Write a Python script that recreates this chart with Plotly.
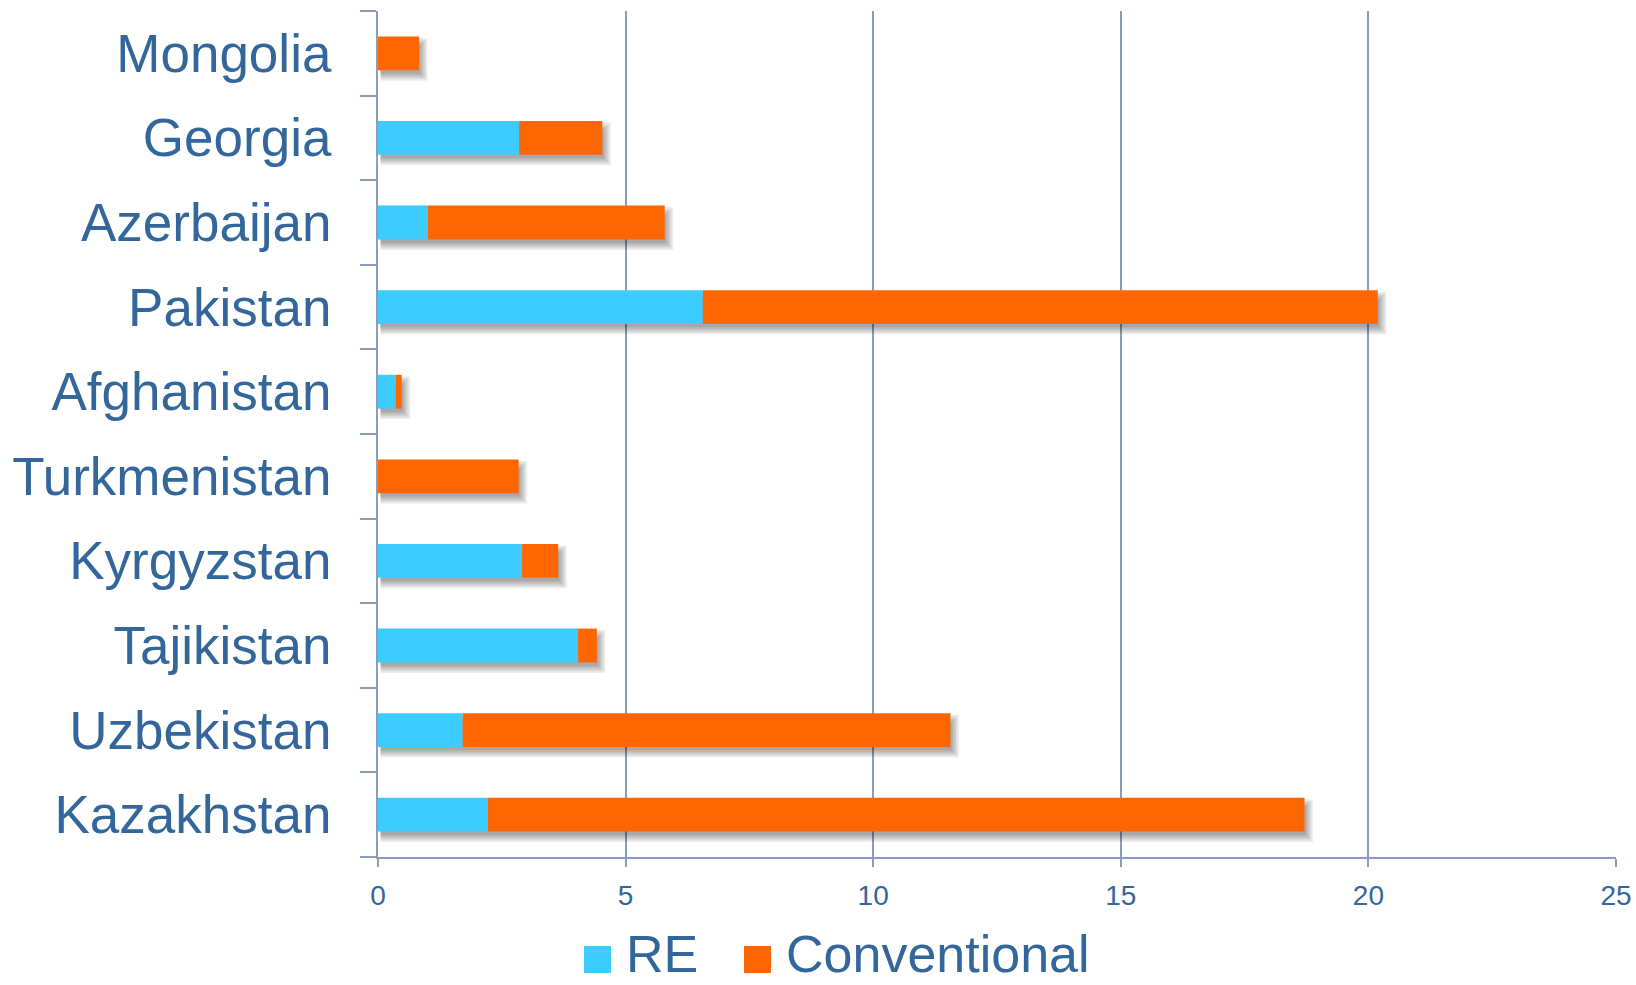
import plotly.graph_objects as go

# Installed capacity by country (GW), split into renewable and conventional
countries = ["Kazakhstan", "Uzbekistan", "Tajikistan", "Kyrgyzstan", "Turkmenistan",
             "Afghanistan", "Pakistan", "Azerbaijan", "Georgia", "Mongolia"]
re_vals = [2.22, 1.71, 4.04, 2.91, 0.0, 0.36, 6.56, 1.01, 2.85, 0.0]
conv_vals = [16.49, 9.85, 0.38, 0.73, 2.84, 0.12, 13.63, 4.78, 1.68, 0.83]
x_ticks = [0, 5, 10, 15, 20, 25]
series_names = ["RE", "Conventional"]

BLUE = "#3DCCFF"
ORANGE = "#FF6600"
AXIS = "#8D9DB9"
TEXT = "#33669A"
FONT = "Liberation Sans, Arial, sans-serif"

W, H = 1636, 985
M_L, M_R, M_T, M_B = 378, 20, 11, 128
BAR_W = 0.4

PW, PH = W - M_L - M_R, H - M_T - M_B
px_x = PW / 25.0                 # pixels per data unit along x
px_y = PH / len(countries)       # pixels per category

totals = [r + c for r, c in zip(re_vals, conv_vals)]

fig = go.Figure()

# soft drop shadow under each stacked bar, built from a few translucent layers
dy, dx = 6.0, 1.5
for spread in [-3, -1.5, 0, 1.5, 3, 4.5]:
    w = BAR_W + 2 * spread / px_y
    off = -BAR_W / 2 - dy / px_y - spread / px_y
    fig.add_trace(go.Bar(
        y=countries, x=[t + (dx + spread) / px_x for t in totals],
        base=[(dx + 1) / px_x] * len(countries),
        orientation="h", width=w, offset=off,
        marker=dict(color="rgba(0,0,0,0.065)", line=dict(width=0)),
        showlegend=False, hoverinfo="skip",
    ))

fig.add_trace(go.Bar(
    y=countries, x=re_vals, base=[0] * len(countries), orientation="h",
    width=BAR_W, offset=-BAR_W / 2, name=series_names[0],
    marker=dict(color=BLUE, line=dict(width=0)), showlegend=False,
))
fig.add_trace(go.Bar(
    y=countries, x=conv_vals, base=re_vals, orientation="h",
    width=BAR_W, offset=-BAR_W / 2, name=series_names[1],
    marker=dict(color=ORANGE, line=dict(width=0)), showlegend=False,
))


# legend drawn as swatches + labels below the plot (pixel positions → paper coords)
def px2paper_x(px):
    return (px - M_L) / PW


def px2paper_y(py):
    return (H - M_B - py) / PH


legend_items = [(series_names[0], BLUE, 584.0), (series_names[1], ORANGE, 744.0)]
SW = 27
baseline = 973.0
for name, col, x0 in legend_items:
    fig.add_shape(
        type="rect", xref="paper", yref="paper",
        x0=px2paper_x(x0), x1=px2paper_x(x0 + SW),
        y0=px2paper_y(baseline), y1=px2paper_y(baseline - SW),
        fillcolor=col, line=dict(width=0), layer="above",
    )
    fig.add_annotation(
        xref="paper", yref="paper", x=px2paper_x(x0 + SW + 13),
        y=px2paper_y(baseline - 18.5), xanchor="left", yanchor="middle",
        text=name, showarrow=False,
        font=dict(size=52, color=TEXT, family=FONT),
    )

fig.update_layout(
    width=W, height=H,
    margin=dict(l=M_L, r=M_R, t=M_T, b=M_B, pad=0),
    barmode="overlay", showlegend=False,
    plot_bgcolor="white", paper_bgcolor="white",
    font=dict(family=FONT, color=TEXT),
    xaxis=dict(
        range=[0, 25], tickvals=x_ticks, ticktext=[str(v) for v in x_ticks],
        showgrid=True, gridcolor=AXIS, gridwidth=2,
        showline=True, linecolor=AXIS, linewidth=2,
        ticks="outside", ticklen=8, tickwidth=2, tickcolor=AXIS,
        tickfont=dict(size=28, color=TEXT, family=FONT),
        ticklabelstandoff=4, zeroline=False, fixedrange=True,
        automargin=False,
    ),
    yaxis=dict(
        type="category", categoryorder="array", categoryarray=countries,
        range=[-0.5, len(countries) - 0.5],
        showgrid=False, showline=True, linecolor=AXIS, linewidth=2,
        ticks="outside", tickson="boundaries", ticklen=16, tickwidth=2,
        tickcolor=AXIS, tickfont=dict(size=53, color=TEXT, family=FONT),
        ticklabelstandoff=34, automargin=False, zeroline=False,
    ),
)

fig.write_html("out.html")
